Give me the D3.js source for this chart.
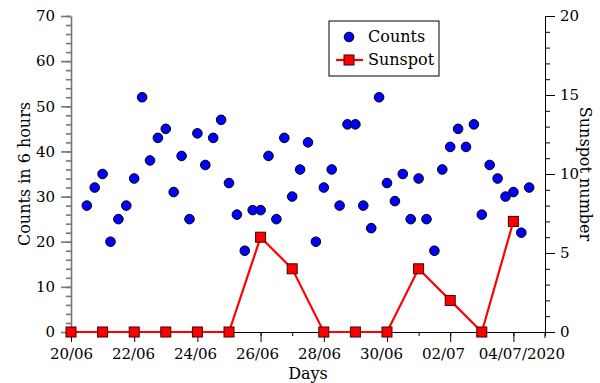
<!DOCTYPE html>
<html>
<head>
<meta charset="utf-8">
<script src="https://cdn.jsdelivr.net/npm/d3@7"></script>
<style>
  body { margin: 0; background: #fff; }
  text { font-family: "DejaVu Serif", serif; fill: #000; }
</style>
</head>
<body>
<script>
// counts every 6 hours, from 20/06 12:00 to 04/07 12:00
var countStart = "2020-06-20T12:00:00Z";
var counts = [28,32,35,20,25,28,34,52,38,43,
              45,31,39,25,44,37,43,47,33,26,
              18,27,27,39,25,43,30,36,42,20,
              32,36,28,46,46,28,23,52,33,29,
              35,25,34,25,18,36,41,45,41,46,
              26,37,34,30,31,22,32];

// daily sunspot number
var sunDays = ["2020-06-20","2020-06-21","2020-06-22","2020-06-23","2020-06-24",
               "2020-06-25","2020-06-26","2020-06-27","2020-06-28","2020-06-29",
               "2020-06-30","2020-07-01","2020-07-02","2020-07-03","2020-07-04"];
var sunspot = [0,0,0,0,0,0,6,4,0,0,0,4,2,0,7];

var xLabelDays = ["2020-06-20","2020-06-22","2020-06-24","2020-06-26",
                  "2020-06-28","2020-06-30","2020-07-02","2020-07-04"];
var xLabels = ["20/06","22/06","24/06","26/06","28/06","30/06","02/07","04/07/2020"];

var W = 600, H = 383;
var pL = 71, pR = 545, pT = 16, pB = 332;

var svg = d3.select("body").append("svg")
	.attr("width", W)
	.attr("height", H);

var x = d3.scaleUtc()
	.domain([new Date("2020-06-20T00:00:00Z"), new Date("2020-07-05T00:00:00Z")])
	.range([pL, pR]);
var yL = d3.scaleLinear().domain([0, 70]).range([pB, pT]);
var yR = d3.scaleLinear().domain([0, 20]).range([pB, pT]);

var t0 = new Date(countStart).getTime();
var countData = counts.map(function(v, i) {
	return {t: new Date(t0 + i * 6 * 3600 * 1000), v: v};
});
var sunData = sunspot.map(function(v, i) {
	return {t: new Date(sunDays[i] + "T00:00:00Z"), v: v};
});

function style(g, color, width) {
	g.selectAll("path, line").attr("stroke", color).attr("stroke-width", width);
	g.selectAll("text").style("font-size", "15px").attr("fill", "#000");
}

// bottom axis: minor every day, labelled every 2 days
var minorDays = d3.utcDay.range(x.domain()[0], d3.utcDay.offset(x.domain()[1], 1));
svg.append("g")
	.attr("transform", "translate(0," + pB + ")")
	.call(d3.axisBottom(x).tickValues(minorDays).tickSize(4).tickFormat("").tickSizeOuter(0))
	.call(style, "#000", 1);
var xMajor = svg.append("g")
	.attr("transform", "translate(0," + pB + ")")
	.call(d3.axisBottom(x)
		.tickValues(xLabelDays.map(function(d) { return new Date(d + "T00:00:00Z"); }))
		.tickSize(10).tickPadding(6).tickSizeOuter(0)
		.tickFormat(function(d, i) { return xLabels[i]; }))
	.call(style, "#000", 1);
xMajor.select(".domain").remove();
// labels sit a little off their ticks in the original, last one pushed right
xMajor.selectAll(".tick text")
	.attr("dx", function(d, i) { return i == xLabels.length - 1 ? 8 : -1.2 * i; });
svg.append("line")
	.attr("x1", pR).attr("x2", pR)
	.attr("y1", pB).attr("y2", pB + 6)
	.attr("stroke", "#000");

// left axis
svg.append("g")
	.attr("transform", "translate(" + pL + ",0)")
	.call(d3.axisLeft(yL).tickValues(d3.range(0, 71, 2)).tickSize(5).tickFormat("").tickSizeOuter(0))
	.call(style, "#777", 1.6);
svg.append("g")
	.attr("transform", "translate(" + pL + ",0)")
	.call(d3.axisLeft(yL).tickValues(d3.range(0, 71, 10)).tickSize(10).tickPadding(6).tickSizeOuter(0))
	.call(style, "#777", 1.6)
	.select(".domain").remove();

// right axis
svg.append("g")
	.attr("transform", "translate(" + pR + ",0)")
	.call(d3.axisRight(yR).tickValues(d3.range(0, 21, 1)).tickSize(5).tickFormat("").tickSizeOuter(0))
	.call(style, "#000", 1);
svg.append("g")
	.attr("transform", "translate(" + pR + ",0)")
	.call(d3.axisRight(yR).tickValues(d3.range(0, 21, 5)).tickSize(10).tickPadding(5).tickSizeOuter(0))
	.call(style, "#000", 1)
	.select(".domain").remove();

// axis titles
svg.append("text")
	.attr("transform", "translate(30," + ((pT + pB) / 2) + ")rotate(-90)")
	.attr("text-anchor", "middle")
	.style("font-size", "16px")
	.text("Counts in 6 hours");
svg.append("text")
	.attr("transform", "translate(580," + ((pT + pB) / 2) + ")rotate(90)")
	.attr("text-anchor", "middle")
	.style("font-size", "16px")
	.text("Sunspot number");
svg.append("text")
	.attr("x", (pL + pR) / 2)
	.attr("y", 379)
	.attr("text-anchor", "middle")
	.style("font-size", "16px")
	.text("Days");

// counts
svg.append("g").selectAll("circle")
	.data(countData)
	.enter().append("circle")
	.attr("cx", function(d) { return x(d.t); })
	.attr("cy", function(d) { return yL(d.v); })
	.attr("r", 4.8)
	.attr("fill", "#0000ff")
	.attr("stroke", "#000")
	.attr("stroke-width", 1);

// sunspot
svg.append("path")
	.datum(sunData)
	.attr("fill", "none")
	.attr("stroke", "#ff0000")
	.attr("stroke-width", 2.2)
	.attr("d", d3.line().x(function(d) { return x(d.t); }).y(function(d) { return yR(d.v); }));
svg.append("g").selectAll("rect")
	.data(sunData)
	.enter().append("rect")
	.attr("x", function(d) { return x(d.t) - 5; })
	.attr("y", function(d) { return yR(d.v) - 5; })
	.attr("width", 10).attr("height", 10)
	.attr("fill", "#ff0000")
	.attr("stroke", "#400000")
	.attr("stroke-width", 1);

// legend
var lg = svg.append("g").attr("transform", "translate(329,21)");
lg.append("rect")
	.attr("width", 110).attr("height", 55)
	.attr("fill", "#fff").attr("stroke", "#000").attr("stroke-width", 1);
lg.append("circle")
	.attr("cx", 20).attr("cy", 16).attr("r", 4.8)
	.attr("fill", "#0000ff").attr("stroke", "#000");
lg.append("text").attr("x", 39).attr("y", 21).style("font-size", "16px").text("Counts");
lg.append("line")
	.attr("x1", 7).attr("x2", 34).attr("y1", 39).attr("y2", 39)
	.attr("stroke", "#ff0000").attr("stroke-width", 2.2);
lg.append("rect")
	.attr("x", 15).attr("y", 34).attr("width", 10).attr("height", 10)
	.attr("fill", "#ff0000").attr("stroke", "#400000");
lg.append("text").attr("x", 39).attr("y", 44).style("font-size", "16px").text("Sunspot");
</script>
</body>
</html>
